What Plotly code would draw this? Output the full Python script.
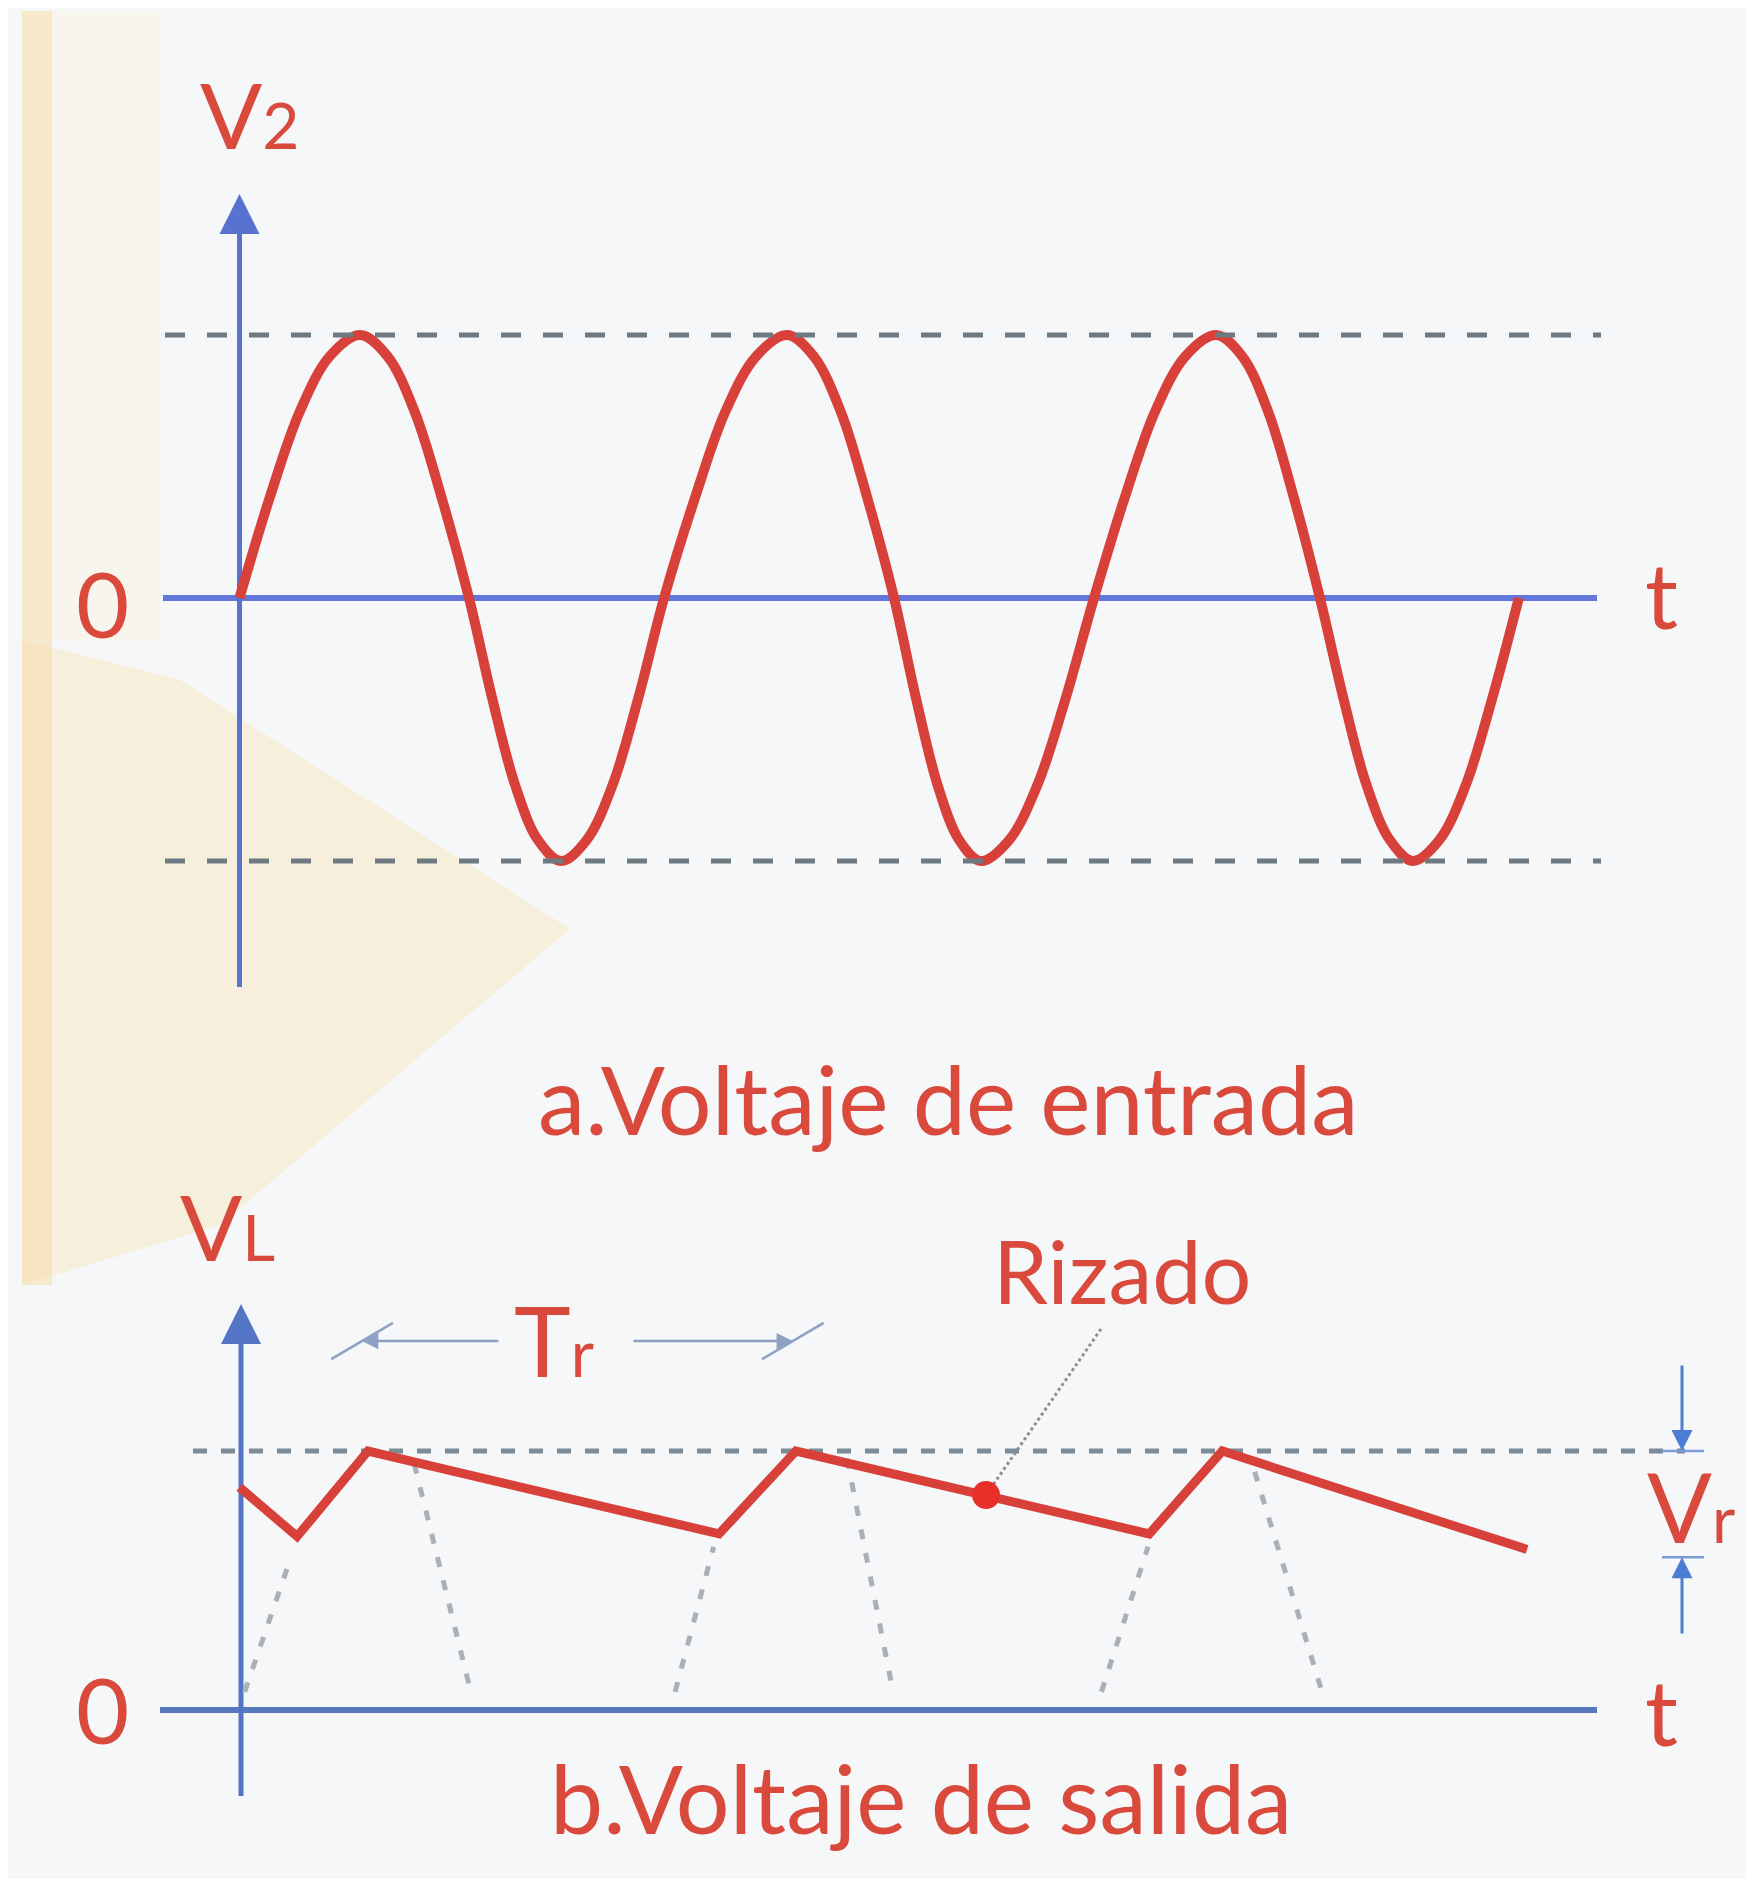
import plotly.graph_objects as go

W, H = 1754, 1887
OFF = 8  # the page body adds an 8px margin around the figure

# ---- data (time in ms, voltage normalised to the peak) ----
# a. input voltage V2 (points along each half wave of the sine)
t_in = [0, 1.17, 2.35, 3.52, 4.69, 5.75, 6.81, 7.87,
        8.93, 9.83, 10.72, 11.61, 12.51, 13.51, 14.52, 15.52,
        16.52, 17.72, 18.91, 20.11, 21.30, 22.34, 23.39, 24.43,
        25.47, 26.32, 27.16, 28.0, 28.85, 29.95, 31.05, 32.15,
        33.25, 34.44, 35.63, 36.81, 38.0, 39.01, 40.02, 41.03,
        42.04, 42.95, 43.85, 44.76, 45.66, 46.69, 47.72, 48.75, 49.78]
v_in = [0, 0.38, 0.71, 0.92, 1, 0.92, 0.71, 0.38,
        0, -0.38, -0.71, -0.92, -1, -0.92, -0.71, -0.38,
        0, 0.38, 0.71, 0.92, 1, 0.92, 0.71, 0.38,
        0, -0.38, -0.71, -0.92, -1, -0.92, -0.71, -0.38,
        0, 0.38, 0.71, 0.92, 1, 0.92, 0.71, 0.38,
        0, -0.38, -0.71, -0.92, -1, -0.92, -0.71, -0.38, 0]

# b. output voltage VL (ripple)
t_out = [0, 2.24, 5.0, 18.66, 21.65, 35.4, 38.24, 50.1]
v_out = [0.86, 0.67, 1.0, 0.68, 1.0, 0.68, 1.0, 0.62]

# grey dashed pieces of the rectified sine under the ripple
t_ghost = [[0.2, 1.9], [6.8, 9.0], [16.95, 18.45], [23.64, 25.43], [33.54, 35.35], [39.5, 42.12]]
v_ghost = [[0.07, 0.56], [0.95, 0.07], [0.07, 0.63], [0.97, 0.07], [0.07, 0.63], [0.92, 0.07]]

t_dot, v_dot = 29.05, 0.83          # "Rizado" marker
tr_start, tr_end = 4.77, 21.53      # Tr dimension
vr_top, vr_bottom = 1.0, 0.59       # Vr dimension

# ---- pixel <-> data helpers (layout only), pixels of the reference page ----
FW, FH = W - 2 * OFF, H - 2 * OFF
PX_MS, T0 = 25.7, 239.5
TOP_ZERO, TOP_SCALE = 598, 263
BOT_ZERO, BOT_SCALE = 1710, 259

def tx(px):
    return (px - T0) / PX_MS

def ytop(py):
    return (TOP_ZERO - py) / TOP_SCALE

def ybot(py):
    return (BOT_ZERO - py) / BOT_SCALE

def px(x):
    return (x - OFF) / FW

def py(y):
    return 1 - (y - OFF) / FH

RED = '#d8403a'
TXT = '#d94a3d'
BLUE = '#5a72cf'
BLUE2 = '#5474c6'
FONT = 'Lato'

fig = go.Figure()

# ---------------- panel a ----------------
fig.add_trace(go.Scatter(x=[tx(163), tx(1597)], y=[0, 0], mode='lines',
                         line=dict(color='#6276dc', width=6), hoverinfo='skip'))
fig.add_trace(go.Scatter(x=[0, 0], y=[ytop(987), ytop(225)], mode='lines',
                         line=dict(color=BLUE, width=5), hoverinfo='skip'))
fig.add_trace(go.Scatter(x=[0], y=[ytop(194)], mode='markers',
                         marker=dict(symbol='arrow-up', size=40, color=BLUE),
                         hoverinfo='skip'))
fig.add_trace(go.Scatter(x=t_in, y=v_in, mode='lines',
                         line=dict(color=RED, width=10, shape='spline', smoothing=1),
                         hoverinfo='skip'))
for lvl in [1, -1]:
    fig.add_trace(go.Scatter(x=[tx(165), tx(1601)], y=[lvl, lvl], mode='lines',
                             line=dict(color='#6d7a82', width=5, dash='20px,22px'),
                             hoverinfo='skip'))

# ---------------- panel b ----------------
fig.add_trace(go.Scatter(x=[tx(160), tx(1597)], y=[0, 0], yaxis='y2', mode='lines',
                         line=dict(color='#5878bd', width=6), hoverinfo='skip'))
fig.add_trace(go.Scatter(x=[tx(241), tx(241)], y=[ybot(1796), ybot(1335)], yaxis='y2',
                         mode='lines', line=dict(color=BLUE2, width=5), hoverinfo='skip'))
fig.add_trace(go.Scatter(x=[tx(241)], y=[ybot(1304)], yaxis='y2', mode='markers',
                         marker=dict(symbol='arrow-up', size=40, color=BLUE2),
                         hoverinfo='skip'))
for gt, gv in zip(t_ghost, v_ghost):
    fig.add_trace(go.Scatter(x=gt, y=gv, yaxis='y2', mode='lines',
                             line=dict(color='#abafb6', width=5, dash='10px,14px'),
                             hoverinfo='skip'))
fig.add_trace(go.Scatter(x=[tx(193), tx(1685)], y=[1, 1], yaxis='y2', mode='lines',
                         line=dict(color='#7c8b98', width=5, dash='14px,14px'),
                         hoverinfo='skip'))
fig.add_trace(go.Scatter(x=t_out, y=v_out, yaxis='y2', mode='lines',
                         line=dict(color=RED, width=9), hoverinfo='skip'))
fig.add_trace(go.Scatter(x=[tx(1101), t_dot], y=[ybot(1329), v_dot], yaxis='y2', mode='lines',
                         line=dict(color='#8e8e8e', width=3, dash='dot'), hoverinfo='skip'))
fig.add_trace(go.Scatter(x=[t_dot], y=[v_dot], yaxis='y2', mode='markers',
                         marker=dict(color='#e8302a', size=28), hoverinfo='skip'))

anns = []

def label(text, x, y, yref, size, xanchor='center'):
    anns.append(dict(text=text, x=x, y=y, xref='x', yref=yref, showarrow=False,
                     xanchor=xanchor, yanchor='middle',
                     font=dict(family=FONT, size=size, color=TXT)))

def arrow(x0, y0, x1, y1, yref, color, width, head, size):
    anns.append(dict(x=x1, y=y1, ax=x0, ay=y0, xref='x', yref=yref, axref='x', ayref=yref,
                     text='', showarrow=True, arrowhead=head, arrowsize=size,
                     arrowwidth=width, arrowcolor=color))

# Tr dimension
arrow(tx(500), ybot(1341), tr_start, ybot(1341), 'y2', '#8ea0c4', 2.5, 2, 1.3)
arrow(tx(632), ybot(1341), tr_end, ybot(1341), 'y2', '#8ea0c4', 2.5, 2, 1.3)

# Vr dimension
arrow(tx(1682), ybot(1364), tx(1682), vr_top, 'y2', '#4c7dd2', 3, 2, 1.4)
arrow(tx(1682), ybot(1635), tx(1682), vr_bottom, 'y2', '#4c7dd2', 3, 2, 1.4)

SUB = "<span style='font-size:%dpx'>%s</span>"
label('V' + SUB % (64, '2'), tx(198), ytop(113), 'y', 92, 'left')
label('0', tx(102), ytop(602), 'y', 92)
label('t', tx(1661), ytop(593), 'y', 92)
label('a.Voltaje de entrada', tx(948), ytop(1098), 'y', 95)

label('V' + SUB % (64, 'L'), tx(178), ybot(1225), 'y2', 92, 'left')
label('T' + SUB % (64, 'r'), tx(554), ybot(1339), 'y2', 96)
label('Rizado', tx(1122), ybot(1270), 'y2', 88)
label('V' + SUB % (64, 'r'), tx(1645), ybot(1505), 'y2', 96, 'left')
label('0', tx(102), ybot(1708), 'y2', 92)
label('t', tx(1661), ybot(1710), 'y2', 92)
label('b.Voltaje de salida', tx(921), ybot(1797), 'y2', 95)

# ticks on the dimension lines
shapes = []
for t_end in [tr_start, tr_end]:
    shapes.append(dict(type='line', xref='x', yref='y2', x0=t_end - 1.2, x1=t_end + 1.2,
                       y0=ybot(1341) - 0.07, y1=ybot(1341) + 0.07,
                       line=dict(color='#8ea0c4', width=2.5)))
for lvl in [vr_top, vr_bottom]:
    shapes.append(dict(type='line', xref='x', yref='y2', x0=tx(1662), x1=tx(1704),
                       y0=lvl, y1=lvl, line=dict(color='#7d9bd6', width=2.5)))

# scanned page background with the faint yellow decoration
shapes.append(dict(type='rect', xref='paper', yref='paper', x0=px(22), x1=px(160),
                   y0=py(640), y1=py(11), fillcolor='#fbf2de', opacity=0.45,
                   line_width=0, layer='below'))
chevron = 'M {},{} L {},{} L {},{} L {},{} L {},{} Z'.format(
    px(22), py(640), px(180), py(680), px(570), py(929), px(220), py(1225), px(22), py(1285))
shapes.append(dict(type='path', xref='paper', yref='paper', path=chevron,
                   fillcolor='#f8e4b5', opacity=0.45, line_width=0, layer='below'))
shapes.append(dict(type='rect', xref='paper', yref='paper', x0=px(22), x1=px(52),
                   y0=py(1285), y1=py(11), fillcolor='#f6dca6', opacity=0.5,
                   line_width=0, layer='below'))

fig.update_layout(
    width=FW, height=FH,
    margin=dict(l=0, r=0, t=0, b=0),
    paper_bgcolor='#f5f7f9', plot_bgcolor='rgba(0,0,0,0)',
    showlegend=False,
    xaxis=dict(range=[tx(OFF), tx(W - OFF)], visible=False, fixedrange=True),
    yaxis=dict(range=[ytop(H - OFF), ytop(OFF)], visible=False, fixedrange=True, domain=[0, 1]),
    yaxis2=dict(range=[ybot(H - OFF), ybot(OFF)], visible=False, fixedrange=True,
                overlaying='y', anchor='x'),
    annotations=anns,
    shapes=shapes,
)

fig.write_html("out.html")
